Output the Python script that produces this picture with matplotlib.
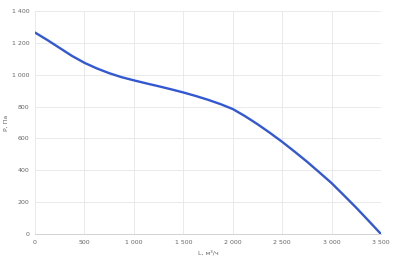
import matplotlib
matplotlib.use("Agg")
import matplotlib.pyplot as plt
from matplotlib.ticker import FuncFormatter

flow = [0, 125, 250, 375, 500, 625, 750, 875, 1000, 1125, 1250, 1375, 1500, 1625, 1750,
        1875, 2000, 2125, 2250, 2375, 2500, 2625, 2750, 2875, 3000, 3125, 3250, 3375, 3500]
pressure = [1265, 1218, 1168, 1118, 1075, 1040, 1010, 985, 965, 946, 928, 909, 889, 867, 843,
            816, 785, 740, 690, 636, 579, 518, 455, 388, 320, 243, 165, 83, 0]
x_ticks = [0, 500, 1000, 1500, 2000, 2500, 3000, 3500]
y_ticks = [0, 200, 400, 600, 800, 1000, 1200, 1400]
x_label = "L, м³/ч"
y_label = "P, Па"

fig = plt.figure(figsize=(4.0, 2.63), dpi=100)
ax = fig.add_axes([0.0875, 0.11, 0.865, 0.848])
ax.plot(flow, pressure, color="#3358d4", linewidth=1.7, solid_capstyle="round",
        solid_joinstyle="round")
ax.set_xlim(0, 3500)
ax.set_ylim(0, 1400)
ax.set_xticks(x_ticks)
ax.set_yticks(y_ticks)
fmt = FuncFormatter(lambda v, p: f"{int(v):,}".replace(",", " "))
ax.xaxis.set_major_formatter(fmt)
ax.yaxis.set_major_formatter(fmt)
ax.grid(True, color="#e6e6e6", linewidth=0.6)
ax.set_axisbelow(True)
for s in ["top", "right", "left"]:
    ax.spines[s].set_visible(False)
ax.spines["bottom"].set_color("#cccccc")
ax.spines["bottom"].set_linewidth(0.6)
ax.tick_params(length=0, labelsize=4.5, colors="#666666", pad=4)
ax.set_xlabel(x_label, fontsize=4.5, color="#666666", labelpad=4)
ax.set_ylabel(y_label, fontsize=4.5, color="#666666", labelpad=2)
fig.savefig("out.png", dpi=100)
